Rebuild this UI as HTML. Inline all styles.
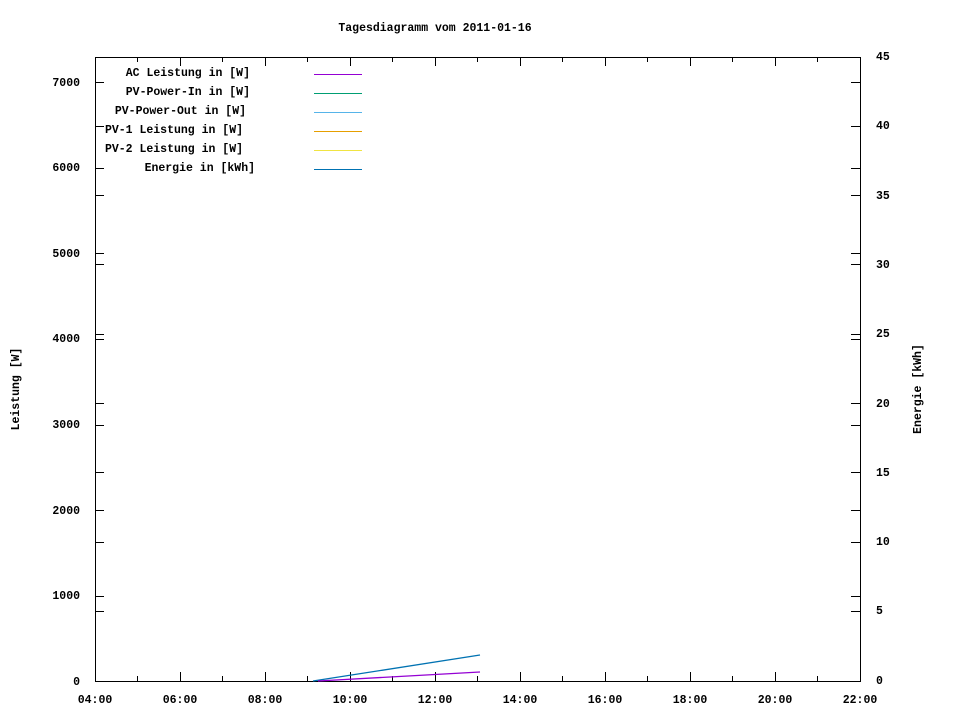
<!DOCTYPE html>
<html><head><meta charset="utf-8"><style>
html,body{margin:0;padding:0;background:#fff;}
svg{display:block;}
text{font-family:"Liberation Mono",monospace;font-size:11.5px;font-weight:bold;fill:#000;}
</style></head><body>
<svg width="960" height="720" viewBox="0 0 960 720" xmlns="http://www.w3.org/2000/svg">
<rect width="960" height="720" fill="#fff"/>
<text x="435" y="31" text-anchor="middle">Tagesdiagramm vom 2011-01-16</text>
<rect x="95.5" y="57.5" width="765" height="624" fill="none" stroke="#000" stroke-width="1"/>
<g stroke="#000" stroke-width="1">
<!-- left y ticks -->
<path d="M95 596.5h9M95 510.5h9M95 425.5h9M95 339.5h9M95 253.5h9M95 168.5h9M95 82.5h9"/>
<path d="M860 596.5h-9M860 510.5h-9M860 425.5h-9M860 339.5h-9M860 253.5h-9M860 168.5h-9M860 82.5h-9"/>
<!-- right y ticks -->
<path d="M860 611.5h-9M860 542.5h-9M860 472.5h-9M860 403.5h-9M860 334.5h-9M860 264.5h-9M860 195.5h-9M860 126.5h-9"/>
<path d="M95 611.5h9M95 542.5h9M95 472.5h9M95 403.5h9M95 334.5h9M95 264.5h9M95 195.5h9M95 126.5h9"/>
<!-- x major -->
<path d="M180.5 681v-9M265.5 681v-9M350.5 681v-9M435.5 681v-9M520.5 681v-9M605.5 681v-9M690.5 681v-9M775.5 681v-9"/>
<path d="M180.5 57v9M265.5 57v9M350.5 57v9M435.5 57v9M520.5 57v9M605.5 57v9M690.5 57v9M775.5 57v9"/>
<!-- x minor -->
<path d="M137.5 681v-5M222.5 681v-5M307.5 681v-5M392.5 681v-5M477.5 681v-5M562.5 681v-5M647.5 681v-5M732.5 681v-5M817.5 681v-5"/>
<path d="M137.5 57v5M222.5 57v5M307.5 57v5M392.5 57v5M477.5 57v5M562.5 57v5M647.5 57v5M732.5 57v5M817.5 57v5"/>
</g>
<g text-anchor="end">
<text x="80" y="685">0</text><text x="80" y="599">1000</text><text x="80" y="514">2000</text><text x="80" y="428">3000</text><text x="80" y="342">4000</text><text x="80" y="257">5000</text><text x="80" y="171">6000</text><text x="80" y="86">7000</text>
</g>
<g text-anchor="start">
<text x="876" y="684">0</text><text x="876" y="614">5</text><text x="876" y="545">10</text><text x="876" y="476">15</text><text x="876" y="407">20</text><text x="876" y="337">25</text><text x="876" y="268">30</text><text x="876" y="199">35</text><text x="876" y="129">40</text><text x="876" y="60">45</text>
</g>
<g text-anchor="middle">
<text x="95" y="703">04:00</text><text x="180" y="703">06:00</text><text x="265" y="703">08:00</text><text x="350" y="703">10:00</text><text x="435" y="703">12:00</text><text x="520" y="703">14:00</text><text x="605" y="703">16:00</text><text x="690" y="703">18:00</text><text x="775" y="703">20:00</text><text x="860" y="703">22:00</text>
</g>
<text transform="translate(19,389) rotate(-90)" text-anchor="middle">Leistung [W]</text>
<text transform="translate(921,389) rotate(-90)" text-anchor="middle">Energie [kWh]</text>
<g text-anchor="end">
<text x="250" y="76">AC Leistung in [W]</text>
<text x="250" y="95">PV-Power-In in [W]</text>
<text x="246" y="114">PV-Power-Out in [W]</text>
<text x="243" y="133">PV-1 Leistung in [W]</text>
<text x="243" y="152">PV-2 Leistung in [W]</text>
<text x="255" y="171">Energie in [kWh]</text>
</g>
<g stroke-width="1">
<path d="M314 74.5h48" stroke="#9400d3"/>
<path d="M314 93.5h48" stroke="#009e73"/>
<path d="M314 112.5h48" stroke="#56b4e9"/>
<path d="M314 131.5h48" stroke="#e69f00"/>
<path d="M314 150.5h48" stroke="#f0e442"/>
<path d="M314 169.5h48" stroke="#0072b2"/>
</g>
<path d="M313 681 L480 655" stroke="#0072b2" stroke-width="1.3" fill="none"/>
<path d="M318 681 L480 672" stroke="#9400d3" stroke-width="1.3" fill="none"/>
</svg>
</body></html>
